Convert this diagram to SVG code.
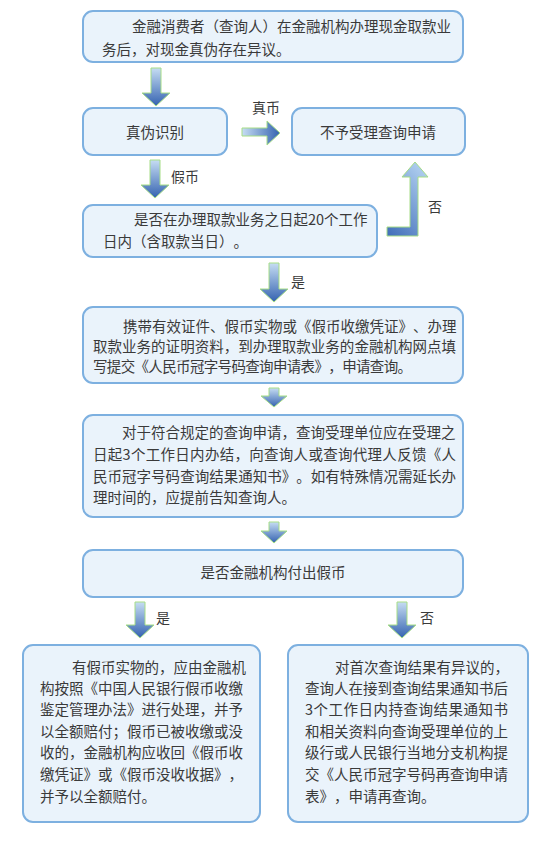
<svg xmlns="http://www.w3.org/2000/svg" width="550" height="842" viewBox="0 0 550 842">
<style>
.box{fill:#eaf3fb;stroke:#7db0e0;stroke-width:2}
.t{font-family:"Noto Sans CJK SC","Noto Sans",sans-serif;font-size:14.5px;fill:#3a3a3a;text-spacing-trim:space-all}
.c{text-anchor:middle}
.lab{font-family:"Noto Sans CJK SC","Noto Sans",sans-serif;font-size:14px;fill:#3a3a3a}
.ad{fill:url(#gd);stroke:#a6dd86;stroke-width:1}
.ar{fill:url(#gr);stroke:#a6dd86;stroke-width:1}
.ae{fill:url(#ge);stroke:#a6dd86;stroke-width:1}
</style>
<defs>
<linearGradient id="gd" x1="0" y1="0" x2="0" y2="1"><stop offset="0" stop-color="#c6ddf3"/><stop offset="1" stop-color="#3462b0"/></linearGradient>
<linearGradient id="gr" x1="0" y1="0" x2="1" y2="0"><stop offset="0" stop-color="#c6ddf3"/><stop offset="1" stop-color="#3462b0"/></linearGradient>
<linearGradient id="ge" x1="0" y1="1" x2="0.6" y2="0"><stop offset="0" stop-color="#3f6db8"/><stop offset="1" stop-color="#a9c9ec"/></linearGradient>
</defs>
<rect width="550" height="842" fill="#ffffff"/>

<g id="connectors">
<path class="ad" d="M151,68 H161 V93 H170 L156,106 L142,93 H151 Z"/>
<path class="ar" d="M242,128 H267 V121 L280,133 L267,145 V136 H242 Z"/>
<text class="lab" x="252" y="113">真币</text>
<path class="ad" d="M150,160 H160 V185 H169 L155,198 L141,185 H150 Z"/>
<text class="lab" x="171" y="182">假币</text>
<path class="ae" d="M387,227 H410 V177 H402 L415,162 L428,177 H418 V236 H387 Z"/>
<text class="lab" x="428" y="212">否</text>
<path class="ad" d="M269,263 H279 V289 H288 L274,302 L260,289 H269 Z"/>
<text class="lab" x="291" y="287">是</text>
<path class="ad" d="M269,388 H279 V396 H287 L274,407 L261,396 H269 Z"/>
<path class="ad" d="M269,522 H279 V531 H287 L274,543 L261,531 H269 Z"/>
<path class="ad" d="M135,602 H145 V625 H154 L140,638 L126,625 H135 Z"/>
<text class="lab" x="156" y="623">是</text>
<path class="ad" d="M397,602 H407 V625 H416 L402,638 L388,625 H397 Z"/>
<text class="lab" x="420" y="623">否</text>
</g>

<g id="n1">
<rect class="box" x="83" y="11" width="380" height="51" rx="10"/>
<text class="t" x="132" y="32">金融消费者（查询人）在金融机构办理现金取款业</text>
<text class="t" x="102" y="55">务后，对现金真伪存在异议。</text>
</g>
<g id="n2">
<rect class="box" x="83" y="108" width="144" height="47" rx="10"/>
<text class="t c" x="155" y="138">真伪识别</text>
</g>
<g id="n3">
<rect class="box" x="292" y="108" width="173" height="47" rx="10"/>
<text class="t c" x="378" y="138">不予受理查询申请</text>
</g>
<g id="n4">
<rect class="box" x="83" y="205" width="294" height="52" rx="10"/>
<text class="t" x="134" y="225">是否在办理取款业务之日起20个工作</text>
<text class="t" x="103" y="247">日内（含取款当日）。</text>
</g>
<g id="n5">
<rect class="box" x="83" y="307" width="380" height="76" rx="10"/>
<text class="t" x="123" y="332" textLength="333.5" lengthAdjust="spacing">携带有效证件、假币实物或《假币收缴凭证》、办理</text>
<text class="t" x="93" y="352" textLength="363" lengthAdjust="spacing">取款业务的证明资料，到办理取款业务的金融机构网点填</text>
<text class="t" x="93" y="372" textLength="319" lengthAdjust="spacing">写提交《人民币冠字号码查询申请表》，申请查询。</text>
</g>
<g id="n6">
<rect class="box" x="83" y="415" width="380" height="102" rx="10"/>
<text class="t" x="122" y="438">对于符合规定的查询申请，查询受理单位应在受理之</text>
<text class="t" x="93" y="460" textLength="363" lengthAdjust="spacing">日起3个工作日内办结，向查询人或查询代理人反馈《人</text>
<text class="t" x="93" y="482" textLength="363" lengthAdjust="spacing">民币冠字号码查询结果通知书》。如有特殊情况需延长办</text>
<text class="t" x="93" y="503">理时间的，应提前告知查询人。</text>
</g>
<g id="n7">
<rect class="box" x="83" y="550" width="380" height="47" rx="10"/>
<text class="t c" x="273" y="578">是否金融机构付出假币</text>
</g>
<g id="n8">
<rect class="box" x="23" y="645" width="237" height="177" rx="10"/>
<text class="t" x="72" y="673">有假币实物的，应由金融机</text>
<text class="t" x="40" y="694" textLength="203" lengthAdjust="spacing">构按照《中国人民银行假币收缴</text>
<text class="t" x="40" y="715" textLength="203" lengthAdjust="spacing">鉴定管理办法》进行处理，并予</text>
<text class="t" x="40" y="737" textLength="203" lengthAdjust="spacing">以全额赔付；假币已被收缴或没</text>
<text class="t" x="40" y="758" textLength="203" lengthAdjust="spacing">收的，金融机构应收回《假币收</text>
<text class="t" x="40" y="780" textLength="203" lengthAdjust="spacing">缴凭证》或《假币没收收据》，</text>
<text class="t" x="40" y="802">并予以全额赔付。</text>
</g>
<g id="n9">
<rect class="box" x="288" y="645" width="240" height="177" rx="10"/>
<text class="t" x="335" y="673">对首次查询结果有异议的，</text>
<text class="t" x="305" y="694" textLength="203" lengthAdjust="spacing">查询人在接到查询结果通知书后</text>
<text class="t" x="305" y="715" textLength="203" lengthAdjust="spacing">3个工作日内持查询结果通知书</text>
<text class="t" x="305" y="737" textLength="203" lengthAdjust="spacing">和相关资料向查询受理单位的上</text>
<text class="t" x="305" y="758" textLength="203" lengthAdjust="spacing">级行或人民银行当地分支机构提</text>
<text class="t" x="305" y="780" textLength="203" lengthAdjust="spacing">交《人民币冠字号码再查询申请</text>
<text class="t" x="305" y="802" textLength="130.5" lengthAdjust="spacing">表》，申请再查询。</text>
</g>
</svg>
